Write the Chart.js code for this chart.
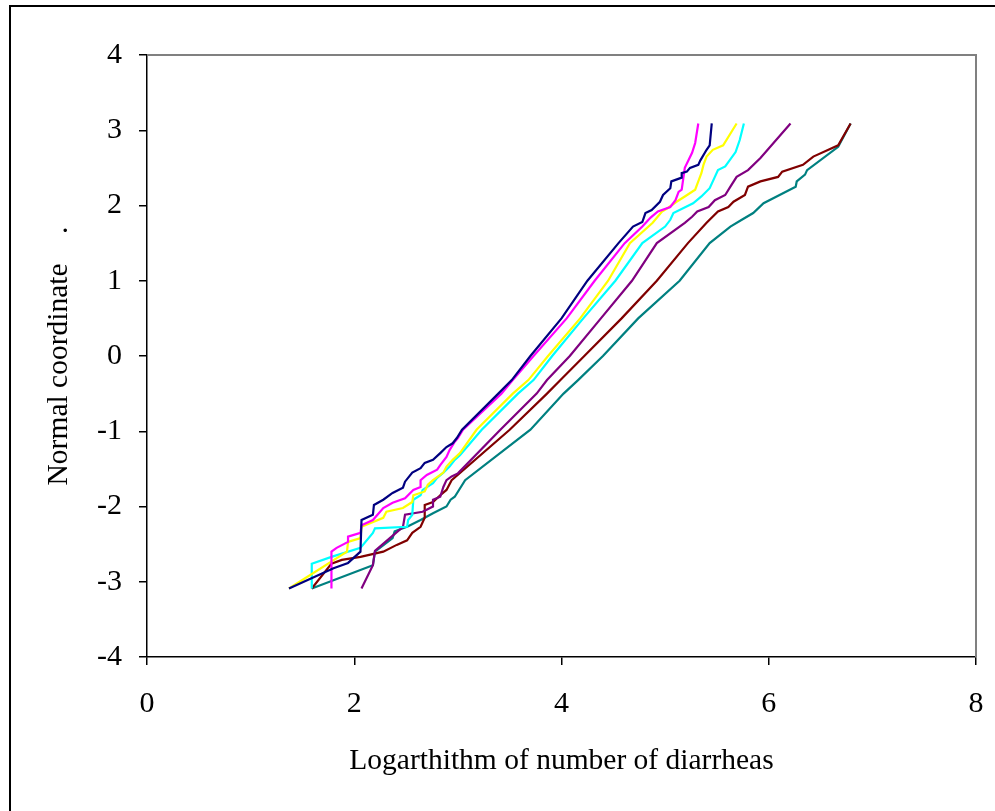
<!DOCTYPE html>
<html>
<head>
<meta charset="utf-8">
<script src="https://cdn.jsdelivr.net/npm/chart.js@4/dist/chart.umd.min.js"></script>
<style>
  html, body { margin: 0; padding: 0; background: #fff; overflow: hidden; }
  #wrap { position: relative; width: 995px; height: 811px; }
  #frame { position: absolute; left: 9px; top: 5px; width: 2000px; height: 2000px;
           border-left: 2px solid #000; border-top: 2px solid #000; pointer-events: none; }
  canvas { position: absolute; left: 0; top: 0; }
</style>
</head>
<body>
<div id="wrap">
  <canvas id="c" width="995" height="811"></canvas>
  <div id="frame"></div>
</div>
<script>
// Normal probability plots: [log(number of diarrheas), normal coordinate]
const navyPts = [
  [1.37,-3.09],[1.80,-2.82],[1.94,-2.75],[2.06,-2.60],[2.07,-2.18],[2.18,-2.11],[2.19,-1.98],
  [2.28,-1.91],[2.37,-1.82],[2.47,-1.75],[2.49,-1.67],[2.56,-1.55],[2.64,-1.49],[2.68,-1.42],
  [2.76,-1.38],[2.83,-1.29],[2.89,-1.21],[2.95,-1.16],[2.99,-1.09],[3.04,-0.98],[3.39,-0.50],
  [3.52,-0.32],[3.70,0.00],[4.00,0.50],[4.25,1.00],[4.55,1.50],[4.69,1.72],[4.78,1.78],
  [4.81,1.90],[4.87,1.94],[4.95,2.05],[4.98,2.14],[5.05,2.23],[5.06,2.32],[5.16,2.37],
  [5.16,2.43],[5.21,2.45],[5.24,2.50],[5.32,2.54],[5.34,2.60],[5.40,2.74],[5.43,2.80],[5.45,3.09]
];
const magentaPts = [
  [1.78,-3.09],[1.78,-2.60],[1.83,-2.55],[1.94,-2.47],[1.94,-2.40],[2.06,-2.35],[2.07,-2.25],
  [2.18,-2.18],[2.28,-2.02],[2.37,-1.95],[2.49,-1.89],[2.57,-1.78],[2.64,-1.74],[2.64,-1.65],
  [2.70,-1.58],[2.80,-1.51],[2.83,-1.45],[2.89,-1.34],[2.92,-1.25],[2.97,-1.14],[3.00,-1.09],
  [3.05,-0.98],[3.42,-0.50],[3.53,-0.32],[3.73,0.00],[4.05,0.50],[4.32,1.00],[4.61,1.50],
  [4.78,1.72],[4.86,1.84],[4.93,1.92],[5.05,1.98],[5.10,2.07],[5.13,2.18],[5.16,2.21],
  [5.19,2.50],[5.26,2.70],[5.29,2.83],[5.32,3.09]
];
const yellowPts = [
  [1.37,-3.09],[1.93,-2.60],[1.94,-2.47],[2.06,-2.42],[2.07,-2.27],[2.28,-2.15],[2.31,-2.07],
  [2.47,-2.02],[2.56,-1.94],[2.57,-1.85],[2.68,-1.80],[2.71,-1.71],[2.76,-1.65],[2.86,-1.55],
  [2.89,-1.47],[2.95,-1.38],[3.02,-1.29],[3.18,-0.98],[3.53,-0.50],[3.68,-0.32],[3.87,0.00],
  [4.18,0.50],[4.45,1.00],[4.66,1.50],[4.88,1.77],[4.97,1.92],[5.03,1.97],[5.11,2.05],
  [5.19,2.12],[5.29,2.21],[5.32,2.32],[5.35,2.43],[5.37,2.54],[5.40,2.65],[5.46,2.74],
  [5.56,2.80],[5.69,3.09]
];
const cyanPts = [
  [1.59,-3.09],[1.59,-2.76],[1.78,-2.67],[2.06,-2.55],[2.18,-2.35],[2.20,-2.29],[2.51,-2.27],
  [2.52,-2.18],[2.56,-2.11],[2.57,-1.91],[2.64,-1.85],[2.66,-1.78],[2.76,-1.69],[2.80,-1.62],
  [2.86,-1.55],[2.92,-1.47],[2.97,-1.38],[3.02,-1.32],[3.23,-0.98],[3.58,-0.50],[3.73,-0.32],
  [3.91,0.00],[4.21,0.50],[4.52,1.00],[4.78,1.50],[5.00,1.72],[5.05,1.81],[5.08,1.90],
  [5.27,2.03],[5.35,2.12],[5.43,2.23],[5.48,2.38],[5.51,2.47],[5.58,2.52],[5.68,2.71],
  [5.72,2.87],[5.76,3.09]
];
const purplePts = [
  [2.07,-3.09],[2.18,-2.78],[2.20,-2.59],[2.47,-2.27],[2.49,-2.11],[2.66,-2.07],[2.76,-2.00],
  [2.76,-1.91],[2.83,-1.87],[2.86,-1.74],[2.89,-1.65],[2.94,-1.60],[3.00,-1.56],[3.41,-0.98],
  [3.76,-0.50],[3.86,-0.32],[4.08,0.00],[4.38,0.50],[4.68,1.00],[4.92,1.50],[5.19,1.77],
  [5.26,1.85],[5.31,1.92],[5.42,1.98],[5.48,2.07],[5.58,2.14],[5.63,2.25],[5.69,2.38],
  [5.80,2.47],[5.92,2.63],[6.21,3.09]
];
const maroonPts = [
  [1.59,-3.09],[1.78,-2.76],[1.88,-2.71],[2.06,-2.67],[2.28,-2.60],[2.41,-2.51],[2.51,-2.45],
  [2.56,-2.35],[2.64,-2.27],[2.68,-2.15],[2.68,-1.98],[2.76,-1.94],[2.83,-1.85],[2.89,-1.78],
  [2.94,-1.65],[3.50,-0.98],[3.86,-0.50],[3.99,-0.32],[4.22,0.00],[4.58,0.50],[4.92,1.00],
  [5.22,1.50],[5.40,1.77],[5.51,1.92],[5.61,1.98],[5.66,2.05],[5.77,2.14],[5.80,2.25],
  [5.92,2.32],[6.09,2.38],[6.13,2.45],[6.33,2.54],[6.43,2.65],[6.67,2.80],[6.79,3.09]
];
const tealPts = [
  [1.59,-3.09],[2.18,-2.78],[2.20,-2.60],[2.37,-2.42],[2.39,-2.33],[2.51,-2.27],[2.64,-2.18],
  [2.76,-2.09],[2.89,-2.00],[2.93,-1.91],[2.97,-1.87],[3.07,-1.65],[3.70,-0.98],[4.02,-0.50],
  [4.16,-0.32],[4.40,0.00],[4.74,0.50],[5.14,1.00],[5.43,1.50],[5.63,1.72],[5.74,1.81],
  [5.85,1.90],[5.95,2.03],[6.26,2.25],[6.27,2.32],[6.35,2.41],[6.37,2.47],[6.67,2.78],[6.79,3.09]
];

const seriesList = [
  { pts: navyPts,    color: '#000080' },
  { pts: magentaPts, color: '#FF00FF' },
  { pts: yellowPts,  color: '#FFFF00' },
  { pts: cyanPts,    color: '#00FFFF' },
  { pts: purplePts,  color: '#800080' },
  { pts: maroonPts,  color: '#800000' },
  { pts: tealPts,    color: '#008080' }
];

const xTitle = 'Logarthithm of number of diarrheas';
const yTitle = 'Normal coordinate    .';
const serif = "'Liberation Serif', 'Times New Roman', serif";

// gray top and right edges of the plot box
const plotBox = {
  id: 'plotBox',
  afterDatasetsDraw(chart) {
    const { ctx, chartArea: a } = chart;
    ctx.save();
    ctx.strokeStyle = '#808080';
    ctx.lineWidth = 2;
    ctx.beginPath();
    ctx.moveTo(a.left, a.top);
    ctx.lineTo(a.right, a.top);
    ctx.lineTo(a.right, a.bottom);
    ctx.stroke();
    ctx.restore();
  }
};

new Chart(document.getElementById('c'), {
  type: 'scatter',
  data: {
    datasets: seriesList.map(s => ({
      data: s.pts.map(p => ({ x: p[0], y: p[1] })),
      borderColor: s.color,
      backgroundColor: s.color,
      borderWidth: 2.2,
      showLine: true,
      pointRadius: 0,
      tension: 0
    }))
  },
  options: {
    responsive: false,
    animation: false,
    layout: { padding: { top: 55, right: 19, left: 0, bottom: 0 } },
    plugins: { legend: { display: false }, tooltip: { enabled: false } },
    scales: {
      x: {
        type: 'linear', min: 0, max: 8,
        afterFit(s) { s.height = 154; s.paddingLeft = 0; s.paddingRight = 0; },
        ticks: { stepSize: 2, color: '#000', padding: 21, font: { family: serif, size: 30 } },
        grid: { display: true, drawOnChartArea: false, drawTicks: true, tickLength: 8, color: '#000', lineWidth: 1.5 },
        border: { display: true, color: '#000', width: 1.5 },
        title: { display: true, text: xTitle, color: '#000', font: { family: serif, size: 29.5 },
                 padding: { top: 0, bottom: 32 } }
      },
      y: {
        type: 'linear', min: -4, max: 4,
        afterFit(s) { s.width = 147; s.paddingTop = 0; s.paddingBottom = 0; },
        ticks: { stepSize: 1, color: '#000', padding: 17, font: { family: serif, size: 30 } },
        grid: { display: true, drawOnChartArea: false, drawTicks: true, tickLength: 8, color: '#000', lineWidth: 1.5 },
        border: { display: true, color: '#000', width: 1.5 },
        title: { display: true, text: yTitle, color: '#000', font: { family: serif, size: 29.5 },
                 padding: { top: 42, bottom: 0 } }
      }
    }
  },
  plugins: [plotBox]
});
</script>
</body>
</html>
